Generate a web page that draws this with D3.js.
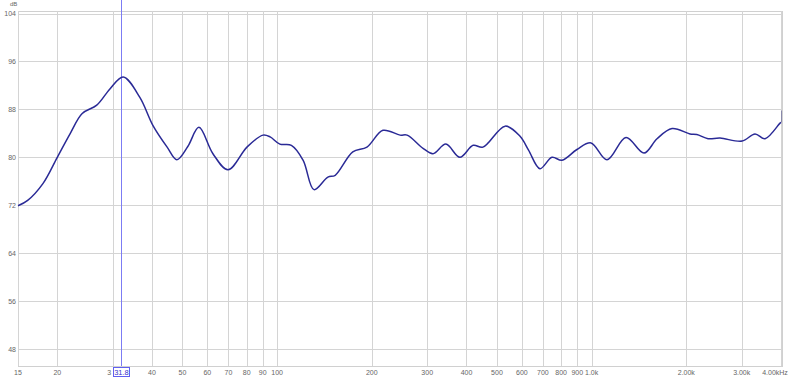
<!DOCTYPE html>
<html>
<head>
<meta charset="utf-8">
<script src="https://cdn.jsdelivr.net/npm/d3@7"></script>
<style>
  body { margin: 0; background: #fff; }
  text { font-family: "Liberation Sans", Arial, sans-serif; }
</style>
</head>
<body>
<script>
var svgWidth = 800
var svgHeight = 377

// response curve (Hz, dB)
var freqs = [15, 16.1, 18, 20, 22, 24, 26.7, 29.4, 32.4, 36.6, 40.3, 44.7, 48, 52, 56.4, 62.5, 69.8, 80.2, 90.2, 95, 102, 111, 121, 131, 145, 153, 174, 193, 217, 246, 259, 291, 313, 344, 381, 420, 451, 531, 592, 630, 685, 748, 805, 898, 995, 1119, 1286, 1467, 1614, 1802, 2055, 2160, 2345, 2560, 3008, 3307, 3560, 3972, 4000]
var levels = [71.9, 72.8, 75.6, 80.0, 84.0, 87.3, 88.7, 91.4, 93.4, 90.0, 85.3, 81.7, 79.6, 81.8, 85.0, 80.6, 77.9, 81.7, 83.7, 83.4, 82.2, 82.0, 79.5, 74.6, 76.7, 77.0, 80.9, 81.7, 84.5, 83.7, 83.7, 81.5, 80.6, 82.2, 80.0, 82.0, 81.7, 85.2, 83.5, 81.2, 78.1, 80.0, 79.5, 81.3, 82.4, 79.6, 83.3, 80.7, 83.1, 84.8, 83.9, 83.8, 83.1, 83.2, 82.7, 83.9, 83.1, 85.7, 85.8]

var yTicks = [48, 56, 64, 72, 80, 88, 96, 104]
var xTicks = [15, 20, 30, 40, 50, 60, 70, 80, 90, 100, 200, 300, 400, 500, 600, 700, 800, 900, 1000, 2000, 3000, 4000]
// the "30" label is mostly hidden behind the cursor box, only its "3" shows
var xTickLabels = ['15', '20', '3', '40', '50', '60', '70', '80', '90', '100', '200', '300', '400', '500', '600', '700', '800', '900', '1.0k', '2.00k', '3.00k', '4.00kHz']
var cursorFreq = 31.8

var plotLeft = 18
var plotRight = 782
var plotTop = 11
var plotBottom = 366

var x = d3.scaleLog().domain([15, 4000]).range([18, 781])
var y = d3.scaleLinear().domain([48, 104]).range([349, 13.5])

var svg = d3.select('body')
  .append('svg')
  .attr('width', svgWidth)
  .attr('height', svgHeight)

// plot frame
svg.append('rect')
  .attr('x', plotLeft + 0.5)
  .attr('y', plotTop + 0.5)
  .attr('width', plotRight - plotLeft)
  .attr('height', plotBottom - plotTop)
  .attr('fill', 'white')
  .attr('stroke', '#d0d0d0')

// horizontal grid
svg.append('g').selectAll('line')
  .data(yTicks)
  .enter()
  .append('line')
  .attr('x1', plotLeft)
  .attr('x2', plotRight)
  .attr('y1', d => Math.round(y(d)) + 0.5)
  .attr('y2', d => Math.round(y(d)) + 0.5)
  .attr('stroke', '#d4d4d4')

// vertical grid
svg.append('g').selectAll('line')
  .data(xTicks)
  .enter()
  .append('line')
  .attr('x1', d => Math.round(x(d)) + 0.5)
  .attr('x2', d => Math.round(x(d)) + 0.5)
  .attr('y1', plotTop)
  .attr('y2', plotBottom)
  .attr('stroke', '#d4d4d4')

// y labels
svg.append('g').selectAll('text')
  .data(yTicks)
  .enter()
  .append('text')
  .attr('x', 16)
  .attr('y', d => y(d) + 2.5)
  .attr('text-anchor', 'end')
  .attr('font-size', 7)
  .attr('fill', '#666')
  .text(d => d)

svg.append('text')
  .attr('x', 10)
  .attr('y', 6)
  .attr('font-size', 6)
  .attr('fill', '#666')
  .text('dB')

// x labels
svg.append('g').selectAll('text')
  .data(xTicks)
  .enter()
  .append('text')
  .attr('x', (d, i) => {
    if (i == xTicks.length - 1) return x(d) - 6
    if (i == 2) return x(d) - 1.5
    return x(d)
  })
  .attr('y', 375)
  .attr('text-anchor', (d, i) => i == 2 ? 'end' : 'middle')
  .attr('font-size', 7)
  .attr('fill', '#666')
  .text((d, i) => xTickLabels[i])

// cursor
var cx = Math.round(x(cursorFreq)) + 0.5
svg.append('line')
  .attr('x1', cx)
  .attr('x2', cx)
  .attr('y1', 0)
  .attr('y2', plotBottom)
  .attr('stroke', '#7c7cf4')
  .attr('stroke-width', 1)

svg.append('rect')
  .attr('x', cx - 8)
  .attr('y', 367.5)
  .attr('width', 16)
  .attr('height', 9)
  .attr('fill', 'white')
  .attr('stroke', '#6060f0')
  .attr('stroke-width', 1)

svg.append('text')
  .attr('x', cx)
  .attr('y', 375)
  .attr('text-anchor', 'middle')
  .attr('font-size', 7.5)
  .attr('fill', '#3333cc')
  .text(cursorFreq)

// response line
var pts = freqs.map((f, i) => [f, levels[i]])
var line = d3.line()
  .x(d => x(d[0]))
  .y(d => y(d[1]))
  .curve(d3.curveCatmullRom.alpha(0.5))

svg.append('path')
  .attr('d', line(pts))
  .attr('fill', 'none')
  .attr('stroke', '#2a2a96')
  .attr('stroke-width', 1.5)

// little spike at the right end
svg.append('line')
  .attr('x1', x(4000) + 0.5)
  .attr('x2', x(4000) + 0.5)
  .attr('y1', y(85.8))
  .attr('y2', y(87.8))
  .attr('stroke', '#8888aa')
  .attr('stroke-width', 1)
</script>
</body>
</html>
